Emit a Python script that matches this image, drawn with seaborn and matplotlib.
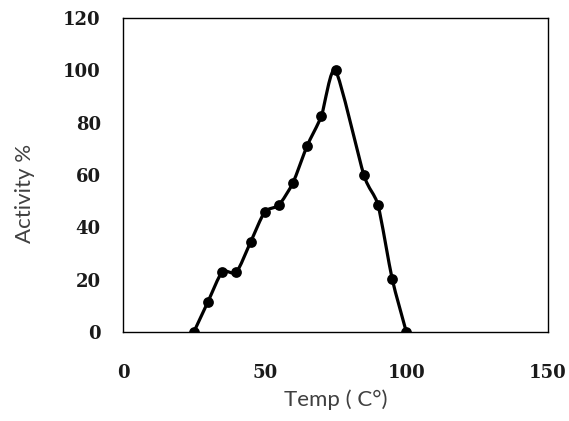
import numpy as np
import pandas as pd
import seaborn as sns
import matplotlib
matplotlib.use("Agg")
import matplotlib.pyplot as plt
from matplotlib.path import Path
from matplotlib.patches import PathPatch

# Data
temp = [25, 30, 35, 40, 45, 50, 55, 60, 65, 70, 75, 85, 90, 95, 100]
activity = [0, 11.6, 23.0, 22.8, 34.3, 45.9, 48.5, 57.1, 71.2, 82.5, 100, 60.0, 48.5, 20.3, 0]
x_ticks = [0, 50, 100, 150]
y_ticks = [0, 20, 40, 60, 80, 100, 120]
x_label = "Temp ( C°)"
y_label = "Activity %"

df = pd.DataFrame({"temp": temp, "activity": activity})

sns.set_style("white")
fig = plt.figure(figsize=(5.69, 4.21), dpi=100)
ax = fig.add_axes([0.2162, 0.2114, 0.9631 - 0.2162, 0.9572 - 0.2114])

# Smoothed line (Excel-style Bezier through the data points)
pts = df[["temp", "activity"]].to_numpy(dtype=float)
n = len(pts)
k = 1.0 / 9.0
verts = [tuple(pts[0])]
codes = [Path.MOVETO]
for i in range(n - 1):
    p0 = pts[i - 1] if i > 0 else pts[i]
    p1 = pts[i]
    p2 = pts[i + 1]
    p3 = pts[i + 2] if i + 2 < n else pts[i + 1]
    c1 = p1 + (p2 - p0) * k
    c2 = p2 - (p3 - p1) * k
    verts += [tuple(c1), tuple(c2), tuple(p2)]
    codes += [Path.CURVE4] * 3
patch = PathPatch(Path(verts, codes), facecolor="none", edgecolor="black",
                  linewidth=2.3, capstyle="round", joinstyle="round", zorder=3)
ax.add_patch(patch)

sns.scatterplot(data=df, x="temp", y="activity", ax=ax, color="black", s=60,
                edgecolor="black", linewidth=0, zorder=4, legend=False)

ax.set_xlim(0, 150)
ax.set_ylim(0, 120)
ax.set_xticks(x_ticks)
ax.set_yticks(y_ticks)
tick_font = dict(family="DejaVu Serif", size=13, weight="bold")
ax.set_xticklabels([str(t) for t in x_ticks], fontdict=tick_font, color="#1a1a1a")
ax.set_yticklabels([str(t) for t in y_ticks], fontdict=tick_font, color="#1a1a1a")
ax.tick_params(axis="both", length=0)
ax.tick_params(axis="x", pad=23)
ax.tick_params(axis="y", pad=16)

ax.set_xlabel(x_label, family="Lato", size=16, color="#404040")
ax.set_ylabel(y_label, family="Lato", size=16, color="#404040")
ax.xaxis.set_label_coords(0.5, -0.217)
ax.yaxis.set_label_coords(-0.23, 0.44)
ax.xaxis.label.set_verticalalignment("center")
ax.yaxis.label.set_verticalalignment("center")

for s in ax.spines.values():
    s.set_visible(True)
    s.set_color("black")
    s.set_linewidth(1.0)

fig.savefig("out.png", dpi=100)
